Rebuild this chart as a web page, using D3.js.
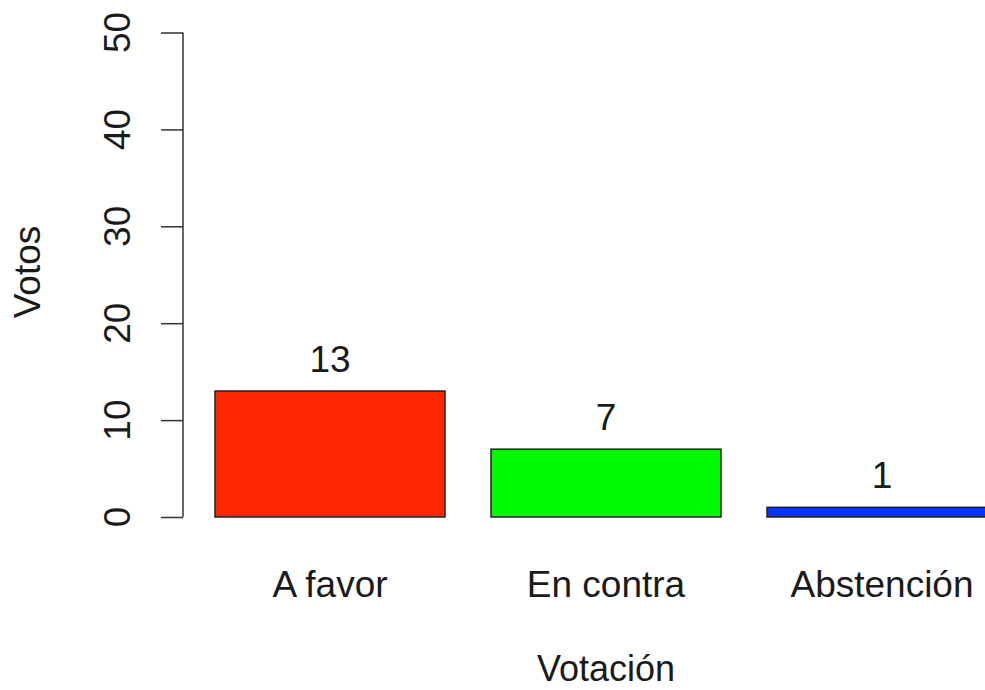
<!DOCTYPE html>
<html>
<head>
<meta charset="utf-8">
<script src="https://cdn.jsdelivr.net/npm/d3@7"></script>
<style>
  html, body { margin: 0; padding: 0; background: #fff; }
  svg { display: block; }
  text { font-family: "Liberation Sans", Arial, sans-serif; fill: #1a1a1a; }
</style>
</head>
<body>
<script>
const categories = ["A favor", "En contra", "Abstención"];
const votes = [13, 7, 1];
const barColors = ["#ff2600", "#00f900", "#0433ff"];
const yTicks = [0, 10, 20, 30, 40, 50];
const xTitle = "Votación";
const yTitle = "Votos";

const W = 985, H = 690;
const svg = d3.select("body").append("svg").attr("width", W).attr("height", H);

const y = d3.scaleLinear().domain([0, 50]).range([517, 32.5]);
const x = d3.scaleBand().domain(categories).range([192, 1020])
  .paddingInner(1 / 6).paddingOuter(1 / 12);

const FS = 37;

// bars
svg.selectAll("rect.bar").data(categories).enter().append("rect")
  .attr("class", "bar")
  .attr("x", d => x(d))
  .attr("y", (d, i) => y(votes[i]))
  .attr("width", x.bandwidth())
  .attr("height", (d, i) => y(0) - y(votes[i]))
  .attr("fill", (d, i) => barColors[i])
  .attr("stroke", "#222")
  .attr("stroke-width", 1.5);

// value labels
svg.selectAll("text.val").data(categories).enter().append("text")
  .attr("class", "val")
  .attr("x", d => x(d) + x.bandwidth() / 2)
  .attr("y", (d, i) => y(votes[i]) - 19)
  .attr("text-anchor", "middle")
  .attr("font-size", FS)
  .text((d, i) => votes[i]);

// category labels
svg.selectAll("text.cat").data(categories).enter().append("text")
  .attr("class", "cat")
  .attr("x", d => x(d) + x.bandwidth() / 2)
  .attr("y", 597)
  .attr("text-anchor", "middle")
  .attr("font-size", FS)
  .text(d => d);

// y axis
const axisG = svg.append("g").attr("transform", "translate(183,0)");
axisG.call(d3.axisLeft(y).tickValues(yTicks).tickSize(22).tickPadding(0).tickFormat(""));
axisG.select(".domain").remove();
axisG.append("line").attr("x1", 0).attr("x2", 0).attr("y1", y(0)).attr("y2", y(50))
  .attr("stroke", "#333").attr("stroke-width", 1.5);
axisG.selectAll(".tick line").attr("stroke", "#333").attr("stroke-width", 1.5);

svg.selectAll("text.ytick").data(yTicks).enter().append("text")
  .attr("class", "ytick")
  .attr("transform", d => `translate(130,${y(d)}) rotate(-90)`)
  .attr("text-anchor", "middle")
  .attr("font-size", FS)
  .text(d => d);

// axis titles
svg.append("text")
  .attr("transform", "translate(40,272) rotate(-90)")
  .attr("text-anchor", "middle")
  .attr("font-size", FS)
  .text(yTitle);

svg.append("text")
  .attr("x", x(categories[1]) + x.bandwidth() / 2)
  .attr("y", 681)
  .attr("text-anchor", "middle")
  .attr("font-size", 36)
  .text(xTitle);
</script>
</body>
</html>
